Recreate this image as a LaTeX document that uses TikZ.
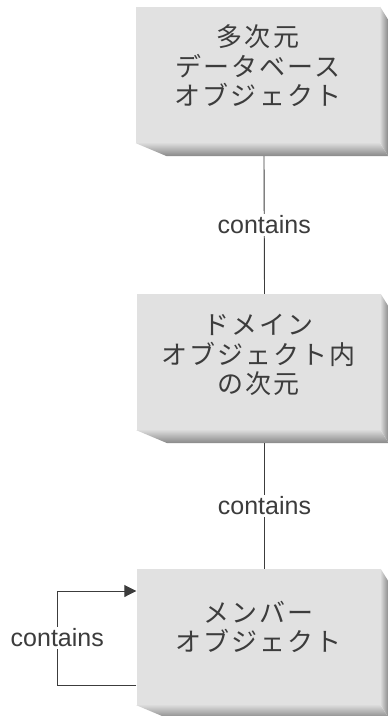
\documentclass[tikz,border=0pt]{standalone}
\usepackage{fontspec}
\setmainfont{Liberation Sans}
\newfontfamily\jpfont[LetterSpace=8]{Noto Sans CJK JP}
\usetikzlibrary{arrows.meta,calc,positioning}
\definecolor{facegray}{RGB}{225,225,225}
\definecolor{bevlight}{RGB}{218,218,218}
\definecolor{bevdark}{RGB}{135,135,135}
\definecolor{inkgray}{RGB}{60,60,60}

\begin{document}
\begin{tikzpicture}[x=1pt,y=-1pt,
	box/.style={fill=facegray, minimum width=244pt, minimum height=136pt, inner sep=0pt},
	boxtext/.style={text=inkgray, align=center, font=\jpfont\fontsize{26}{29.5}\selectfont},
	conn/.style={draw=inkgray, line width=0.9pt},
	lbl/.style={fill=white, text=inkgray, font=\fontsize{25}{30}\selectfont, inner xsep=1pt, inner ysep=2pt}]

	\useasboundingbox (0,0) rectangle (388,716);

	\node[box] (mdb) at (258,75) {};
	\node[box] (dim) at (258.5,362) {};
	\node[box] (mem) at (258.5,637) {};

	% bevels
	\foreach \nd in {mdb,dim,mem}{
		\shade[top color=bevlight, bottom color=bevdark] (\nd.south west) -- ++(31,13) -- ($(\nd.south east)+(8,13)$) -- (\nd.south east) -- cycle;
		\shade[left color=bevlight, right color=bevdark] (\nd.north east) -- ++(8,13) -- ($(\nd.south east)+(8,13)$) -- (\nd.south east) -- cycle;
	}

	\node[boxtext] (mdbtext) at ([yshift=9pt]mdb.center) {多次元\\データベース\\オブジェクト};
	\node[boxtext] (dimtext) at ([yshift=7pt]dim.center) {ドメイン\\オブジェクト内\\の次元};
	\node[boxtext] (memtext) at ([yshift=10pt]mem.center) {メンバー\\オブジェクト};

	\draw[conn] ([xshift=6pt,yshift=-13pt]mdb.south) -- node[lbl] {contains} ([xshift=6pt]dim.north);
	\draw[conn] ([xshift=6pt,yshift=-13pt]dim.south) -- node[lbl] {contains} ([xshift=6pt]mem.north);
	\draw[conn, -{Triangle[length=12pt,width=12pt]}] ([yshift=-48pt]mem.west) -- ++(-79,0) |- node[lbl, pos=0.25] {contains} ([yshift=46pt]mem.west);

\end{tikzpicture}
\end{document}
